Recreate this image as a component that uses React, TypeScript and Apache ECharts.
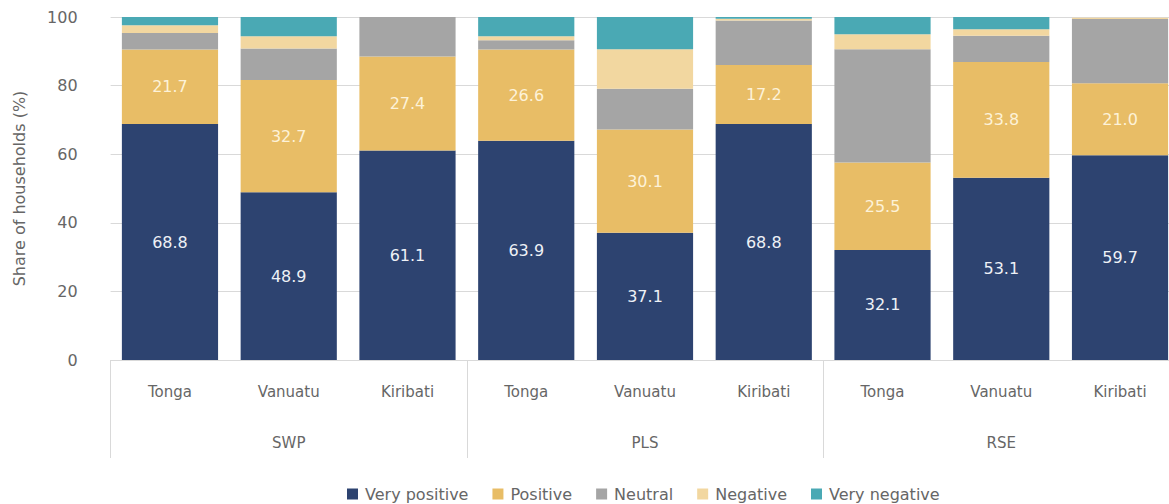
import React, { useEffect, useRef } from "react";
import * as echarts from "echarts";

const countries = ["Tonga", "Vanuatu", "Kiribati", "Tonga", "Vanuatu", "Kiribati", "Tonga", "Vanuatu", "Kiribati"];
const groups = ["SWP", "PLS", "RSE"];
const yTicks = [0, 20, 40, 60, 80, 100];

const veryPositive = [68.8, 48.9, 61.1, 63.9, 37.1, 68.8, 32.1, 53.1, 59.7];
const positive = [21.7, 32.7, 27.4, 26.6, 30.1, 17.2, 25.5, 33.8, 21.0];
const neutral = [4.8, 9.2, 11.5, 2.7, 11.9, 13.0, 33.0, 7.6, 18.7];
const negative = [2.3, 3.6, 0, 1.2, 11.5, 0.5, 4.4, 1.9, 0.4];
const veryNegative = [2.4, 5.6, 0, 5.6, 9.4, 0.5, 5.0, 3.6, 0];

const FONT = "'DejaVu Sans', 'Noto Sans', sans-serif";
const TXT = "#666666";
const FS = 15;

export default function App() {
  const ref = useRef<HTMLDivElement>(null);
  useEffect(() => {
    if (!ref.current) return;
    const chart = echarts.init(ref.current, null, { renderer: "svg" });
    const mk = (name: string, data: number[], color: string, showLabel: boolean, labelColor: string) => ({
      name,
      type: "bar",
      stack: "total",
      data,
      barCategoryGap: "19%",
      itemStyle: { color },
      label: {
        show: showLabel,
        position: "inside",
        color: labelColor,
        fontSize: 16,
        fontFamily: FONT,
        formatter: (p: any) => Number(p.value).toFixed(1),
      },
      emphasis: { disabled: true },
    });
    chart.setOption({
      animation: false,
      textStyle: { fontFamily: FONT },
      grid: { left: 110.6, right: 0.6, top: 17, bottom: 144, containLabel: false },
      legend: {
        bottom: 2,
        left: 347,
        padding: 0,
        icon: "rect",
        itemWidth: 11,
        itemHeight: 11,
        itemGap: 24,
        textStyle: { color: TXT, fontSize: 16, fontFamily: FONT, padding: [0, 0, 0, 2] },
        data: ["Very positive", "Positive", "Neutral", "Negative", "Very negative"],
      },
      xAxis: [
        {
          type: "category",
          data: countries,
          position: "bottom",
          axisLine: { show: true, lineStyle: { color: "#d9d9d9" } },
          axisTick: { show: false },
          axisLabel: { color: TXT, fontSize: FS, fontFamily: FONT, margin: 24 },
        },
        {
          type: "category",
          data: groups,
          position: "bottom",
          axisLine: { show: false },
          axisTick: { show: true, length: 98, lineStyle: { color: "#d9d9d9" } },
          axisLabel: { color: TXT, fontSize: FS, fontFamily: FONT, margin: 75 },
        },
      ],
      yAxis: {
        type: "value",
        min: yTicks[0],
        max: yTicks[yTicks.length - 1],
        interval: 20,
        name: "Share of households (%)",
        nameLocation: "middle",
        nameGap: 83,
        nameTextStyle: { color: TXT, fontSize: 16, fontFamily: FONT },
        axisLine: { show: false },
        axisTick: { show: false },
        axisLabel: { color: TXT, fontSize: 16, fontFamily: FONT, margin: 33 },
        splitLine: { lineStyle: { color: "#d9d9d9" } },
      },
      series: [
        mk("Very positive", veryPositive, "#2d4370", true, "#eef1f6"),
        mk("Positive", positive, "#e8bd66", true, "#fdf2d8"),
        mk("Neutral", neutral, "#a5a5a5", false, "#fff"),
        mk("Negative", negative, "#f2d7a0", false, "#fff"),
        mk("Very negative", veryNegative, "#4aa9b4", false, "#fff"),
      ],
    });
    return () => chart.dispose();
  }, []);
  return (
    <div style={{ position: "absolute", left: 0, top: 0, width: 1169, height: 504, overflow: "hidden", background: "#fff" }}>
      <div ref={ref} style={{ width: 1180, height: 504 }} />
    </div>
  );
}
